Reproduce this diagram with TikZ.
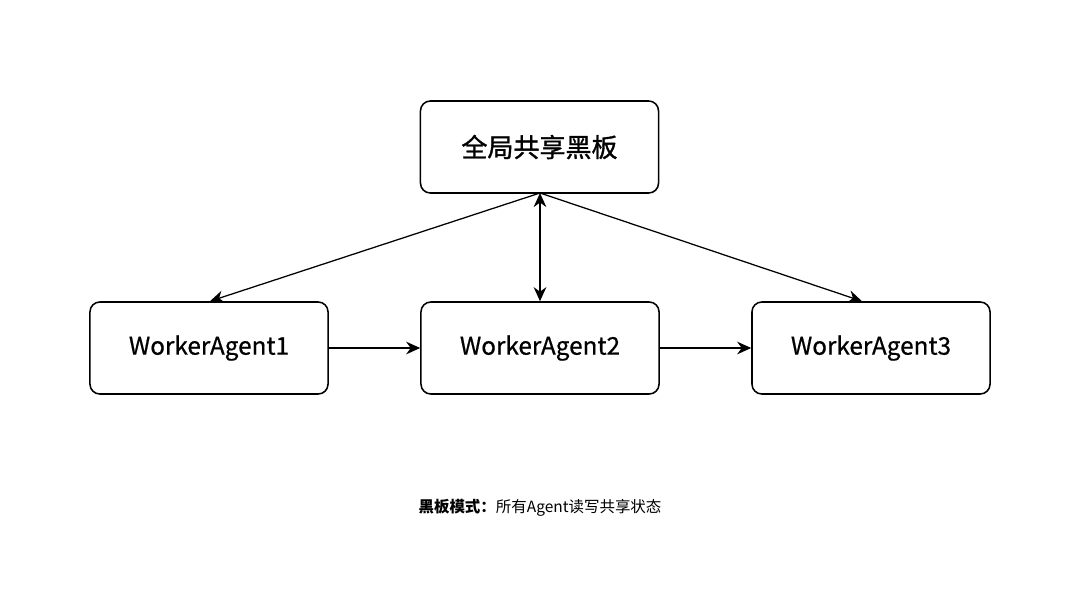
\documentclass[tikz,border=0pt]{standalone}
\usepackage{fontspec}
\setmainfont{Noto Sans CJK SC}
\newfontfamily\medfont[FakeBold=0.6]{Noto Sans CJK SC}
\newfontfamily\semifont[FakeBold=1.2]{Noto Sans CJK SC}
\usetikzlibrary{arrows.meta}
\begin{document}
\begin{tikzpicture}[x=0.025cm,y=-0.025cm,
  box/.style={draw=black,line width=1.1pt,rounded corners=7pt,fill=white,minimum width=238*0.7113pt,minimum height=92*0.7113pt,inner sep=0pt},
  tip/.style={},
  conn/.style={line width=0.9pt,-{Stealth[length=10pt,width=9pt]}},
  lbl/.style={font=\fontsize{17.3}{20}\selectfont\medfont}]
\fill[white] (0,0) rectangle (1080,607);
\useasboundingbox (0,0) rectangle (1080,607);
\node[box,font=\fontsize{18.5}{22}\selectfont\semifont] (top) at (539.5,147) {全局共享黑板};
\node[box,lbl] (w1) at (209,348) {WorkerAgent1};
\node[box,lbl] (w2) at (540,348) {WorkerAgent2};
\node[box,lbl] (w3) at (871,348) {WorkerAgent3};
\coordinate (tb) at (540,193);
\draw[conn] (tb) -- ([xshift=1*0.7113pt]w1.north);
\draw[conn] (tb) -- ([xshift=-9*0.7113pt]w3.north);
\draw[conn,{Stealth[length=10pt,width=9pt]}-{Stealth[length=10pt,width=9pt]}] (tb) -- (w2.north);
\draw[conn] (w1.east) -- (w2.west);
\draw[conn] (w2.east) -- (w3.west);
\node[font=\fontsize{11}{13}\selectfont] (cap) at (540,508) {\textbf{黑板模式：}所有Agent读写共享状态};
\end{tikzpicture}
\end{document}
